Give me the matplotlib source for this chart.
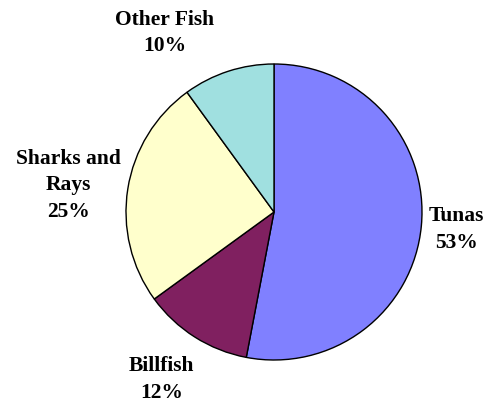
import matplotlib.pyplot as plt

# 数据
categories = ['Tunas', 'Billfish', 'Sharks and\nRays', 'Other Fish']
shares = [53, 12, 25, 10]
colors = ['#8080FF', '#802060', '#FFFFCC', '#A0E0E0']

# 标签位置 (数据坐标, 饼图半径为1)
label_pos = [(1.235, -0.12), (-0.76, -1.13), (-1.39, 0.18), (-0.74, 1.21)]

fig = plt.figure(figsize=(4.89, 4.11), dpi=100)
ax = fig.add_axes([0, 0, 1, 1])

ax.pie(shares, colors=colors, startangle=90, counterclock=False, radius=1,
       wedgeprops={'edgecolor': 'black', 'linewidth': 1.0})

for name, val, (x, y) in zip(categories, shares, label_pos):
    ax.text(x, y, f"{name}\n{val}%", ha='center', va='center',
            fontsize=15.5, fontweight='bold', family='Liberation Serif',
            linespacing=1.45)

ax.set_xlim(-274 / 148, (489 - 274) / 148)
ax.set_ylim(-(411 - 212) / 148, 212 / 148)
ax.set_aspect('equal')
ax.axis('off')

fig.savefig('out.png', dpi=100)
